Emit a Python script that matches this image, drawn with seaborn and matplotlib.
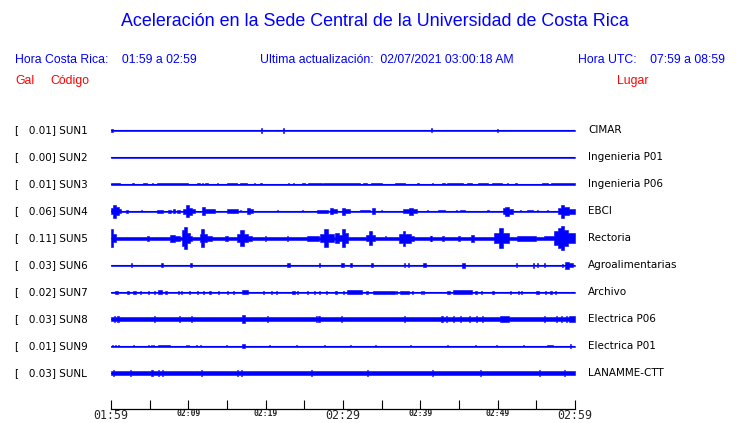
import numpy as np
import pandas as pd
import matplotlib
matplotlib.use("Agg")
import matplotlib.pyplot as plt
import seaborn as sns

codigos = ["SUN1", "SUN2", "SUN3", "SUN4", "SUN5", "SUN6", "SUN7", "SUN8", "SUN9", "SUNL"]
gal = [0.01, 0.00, 0.01, 0.06, 0.11, 0.03, 0.02, 0.03, 0.01, 0.03]
lugares = ["CIMAR", "Ingenieria P01", "Ingenieria P06", "EBCI", "Rectoria",
           "Agroalimentarias", "Archivo", "Electrica P06", "Electrica P01", "LANAMME-CTT"]
minutos_tick = [0, 10, 20, 30, 40, 50, 60]
horas = ["01:59", "02:09", "02:19", "02:29", "02:39", "02:49", "02:59"]

# amplitudes en 1/27 de la separacion entre trazas
ESCALA = 27.0
ruido = [0.5, 0.5, 0.5, 0.5, 1.5, 0.5, 0.5, 2.0, 0.5, 1.8]

# rafagas (minuto inicio, minuto fin, amplitud)
sun1 = [(0.0, 0.3, 1.5)]
sun2 = []
sun3 = [(0.0, 1.2, 1.2), (2.7, 3.0, 1.2), (4.2, 4.6, 1.2), (6.0, 7.9, 1.3), (7.9, 10.0, 1.2),
        (11.1, 11.5, 1.2), (12.2, 12.6, 1.2), (15.0, 16.3, 1.2), (16.7, 17.6, 1.2),
        (19.3, 19.5, 1.2), (23.5, 23.7, 1.2), (24.7, 25.1, 1.2), (25.5, 27.3, 1.3),
        (27.4, 30.3, 1.3), (29.6, 32.2, 1.3), (32.6, 33.1, 1.2), (33.6, 35.0, 1.2),
        (36.7, 38.0, 1.2), (42.8, 43.2, 1.2), (43.4, 45.5, 1.3), (46.0, 46.7, 1.2),
        (47.5, 48.8, 1.3), (49.3, 50.6, 1.3), (52.2, 52.5, 1.2), (55.7, 56.5, 1.2),
        (56.9, 58.0, 1.2), (58.0, 60.0, 1.3)]
sun4 = [(0.0, 0.3, 3.0), (0.3, 0.7, 6.5), (0.7, 1.0, 4.0), (1.0, 1.3, 2.0),
        (2.0, 2.2, 1.5), (6.0, 6.7, 1.5), (7.4, 7.8, 1.5), (8.0, 8.3, 2.0), (8.5, 8.9, 1.5),
        (9.3, 9.7, 2.5), (9.7, 10.1, 6.0), (10.1, 10.5, 3.5), (10.5, 10.9, 2.0),
        (11.8, 12.2, 4.0), (12.2, 13.5, 1.8), (15.0, 16.4, 1.8), (17.6, 18.0, 3.0),
        (18.0, 18.4, 1.8), (26.6, 28.0, 1.5), (28.3, 28.7, 3.0), (28.7, 29.2, 1.8),
        (29.9, 30.3, 3.5), (30.3, 30.9, 2.0), (32.2, 33.5, 1.2), (33.7, 34.1, 3.0),
        (37.8, 38.5, 2.0), (38.5, 39.1, 3.5), (39.1, 39.6, 1.8), (42.3, 43.2, 1.2),
        (45.1, 45.8, 1.2), (48.6, 48.9, 1.2), (50.7, 51.0, 3.0), (51.0, 51.5, 4.5),
        (51.5, 52.0, 2.5), (53.8, 54.6, 1.2), (57.8, 58.2, 3.0), (58.2, 58.6, 6.5),
        (58.6, 59.2, 4.0), (59.2, 60.0, 2.5)]
sun5 = [(0.0, 0.3, 9.0), (0.3, 0.6, 4.0), (4.6, 4.9, 2.5), (7.6, 8.3, 3.5), (8.3, 8.9, 2.5),
        (9.2, 9.5, 8.0), (9.5, 9.8, 11.0), (9.8, 10.2, 5.0), (10.2, 10.5, 2.5),
        (11.5, 11.7, 4.0), (11.7, 12.0, 9.0), (12.0, 12.4, 4.0), (12.4, 13.0, 2.5),
        (14.7, 15.1, 2.5), (16.3, 16.7, 4.0), (16.7, 17.2, 8.0), (17.2, 17.7, 4.0),
        (17.7, 18.2, 2.5), (25.4, 26.9, 2.5), (27.0, 27.6, 4.0), (27.6, 28.1, 9.0),
        (28.1, 28.9, 4.0), (29.0, 29.5, 5.0), (29.5, 29.9, 3.0), (29.9, 30.2, 9.0),
        (30.2, 30.6, 5.0), (33.0, 33.4, 3.0), (33.4, 33.7, 7.0), (33.7, 34.1, 3.0),
        (37.3, 37.7, 4.5), (37.7, 38.0, 7.5), (38.0, 38.8, 4.5), (38.8, 39.2, 2.5),
        (41.2, 41.4, 2.5), (42.8, 43.0, 2.5), (44.9, 45.1, 2.5), (46.6, 46.9, 3.5),
        (49.5, 50.2, 5.0), (50.2, 50.7, 10.0), (50.7, 51.5, 5.0), (52.5, 55.0, 2.5),
        (56.0, 57.3, 2.0), (57.3, 57.8, 7.0), (57.8, 58.2, 10.0), (58.2, 58.6, 12.0),
        (58.6, 59.1, 8.0), (59.1, 60.0, 5.0)]
sun6 = [(10.2, 10.5, 1.7), (22.8, 23.1, 1.7), (29.8, 30.1, 1.7), (30.9, 31.2, 1.7),
        (33.6, 33.9, 1.7), (40.4, 40.7, 1.7), (45.4, 45.8, 2.5), (58.7, 59.2, 3.5),
        (59.2, 59.7, 2.0)]
sun7 = [(0.5, 0.9, 1.5), (2.9, 3.2, 1.5), (6.1, 6.6, 1.8), (7.0, 7.3, 1.5), (17.0, 17.7, 1.6),
        (23.4, 23.8, 1.5), (30.5, 32.5, 1.6), (33.9, 36.7, 1.5), (37.4, 38.5, 1.5),
        (43.4, 43.8, 1.5), (44.2, 46.7, 1.7), (54.9, 55.4, 1.5)]
sun8 = [(17.0, 17.3, 4.0), (50.3, 51.5, 2.6), (59.2, 60.0, 2.8)]
sun9 = [(6.1, 7.6, 1.3), (17.0, 17.3, 1.8), (56.4, 57.2, 1.3)]
sunl = [(40.0, 41.0, 2.3)]

# picos aislados (minuto, amplitud)
picos1 = [(19.5, 2.5), (22.3, 2.5), (41.4, 2.0), (50.0, 1.5)]
picos2 = []
picos3 = [(5.4, 1.3), (11.8, 1.2), (13.8, 1.2), (18.6, 1.2), (22.9, 1.2), (39.7, 1.2), (41.6, 1.2), (51.3, 1.2)]
picos4 = [(4.0, 1.0), (16.7, 1.0), (21.5, 1.0), (24.8, 1.0), (35.0, 1.0), (40.9, 1.0),
          (44.7, 1.2), (52.9, 1.0), (55.2, 1.2), (56.4, 1.0)]
picos5 = [(20.0, 2.5), (22.8, 2.5), (35.5, 2.2), (41.5, 2.5)]
picos6 = [(2.7, 2.0), (6.6, 2.0), (27.0, 2.0), (38.0, 1.7), (38.5, 1.7), (52.4, 1.7),
          (54.6, 2.5), (55.2, 1.7), (56.1, 1.7), (58.4, 1.5)]
picos7 = [(2.2, 1.5), (3.8, 1.5), (4.9, 1.5), (5.6, 1.5), (8.7, 1.5), (9.1, 1.5), (10.2, 1.5),
          (11.2, 1.5), (12.0, 1.5), (12.8, 1.5), (13.9, 1.5), (15.1, 1.5), (15.8, 1.5),
          (19.7, 1.5), (20.8, 1.5), (21.4, 1.5), (24.1, 1.5), (25.4, 1.5), (26.3, 1.5),
          (27.0, 1.5), (27.9, 1.5), (29.1, 1.5), (30.1, 1.5), (33.1, 1.5), (36.9, 1.5),
          (39.0, 1.5), (40.1, 1.5), (40.4, 1.5), (47.2, 1.5), (47.9, 1.5), (49.4, 1.5),
          (51.7, 1.5), (52.7, 1.5), (53.1, 1.5), (56.2, 1.5), (56.9, 1.5), (57.5, 1.5)]
picos8 = [(0.5, 3.0), (0.9, 3.0), (5.6, 2.8), (8.8, 3.0), (10.4, 3.0), (20.2, 2.8),
          (26.6, 3.0), (26.9, 3.0), (29.8, 3.0), (37.9, 2.8), (42.8, 2.8), (43.4, 2.8),
          (44.3, 2.8), (45.2, 2.8), (46.4, 3.0), (47.3, 3.0), (48.0, 2.8), (56.1, 2.8),
          (57.6, 2.8), (58.2, 3.0), (58.9, 2.8)]
picos9 = [(0.2, 1.4), (0.6, 1.4), (1.0, 1.4), (2.9, 1.4), (4.9, 1.4), (5.2, 1.4), (5.5, 1.4),
          (9.8, 1.4), (10.0, 1.4), (11.0, 1.4), (11.6, 1.4), (14.9, 1.4), (20.5, 1.4),
          (24.0, 1.4), (27.6, 1.4), (31.0, 1.4), (34.2, 1.4), (38.7, 1.4), (43.5, 1.4),
          (47.1, 1.4), (49.8, 1.4), (53.3, 1.4), (59.4, 2.0)]
picosl = [(0.3, 2.8), (2.5, 2.8), (5.3, 2.8), (6.2, 2.8), (6.7, 2.8), (11.7, 2.8), (16.3, 2.8),
          (16.9, 2.8), (25.9, 2.6), (33.2, 2.6), (41.6, 2.6), (47.8, 2.6), (55.4, 2.6), (58.7, 2.8)]

rafagas = [sun1, sun2, sun3, sun4, sun5, sun6, sun7, sun8, sun9, sunl]
picos = [picos1, picos2, picos3, picos4, picos5, picos6, picos7, picos8, picos9, picosl]

AZUL = "#0000ff"
ROJO = "#ff0000"


def envolvente(base, eventos, aislados):
    eventos = list(eventos) + [(t - 0.07, t + 0.07, v) for t, v in aislados]
    bordes = sorted(set([0.0, 60.0] + [max(0.0, e[0]) for e in eventos] + [min(60.0, e[1]) for e in eventos]))
    amps = []
    for a, b in zip(bordes[:-1], bordes[1:]):
        m = (a + b) / 2
        amp = base
        for t0, t1, v in eventos:
            if t0 <= m < t1:
                amp = max(amp, v)
        amps.append(amp)
    amps.append(amps[-1])
    return np.array(bordes), np.array(amps) / ESCALA


sns.set_style("white")
plt.rcParams["font.family"] = ["Liberation Sans", "DejaVu Sans"]

fig = plt.figure(figsize=(7.4, 4.23), dpi=100)
ax = fig.add_axes([111 / 740, 14 / 423, 464 / 740, 292.5 / 423])

# linea central de cada estacion
df = pd.DataFrame({
    "minuto": [0, 60] * len(codigos),
    "pos": [i for i in range(len(codigos)) for _ in range(2)],
    "codigo": [c for c in codigos for _ in range(2)],
})
sns.lineplot(data=df, x="minuto", y="pos", units="codigo", estimator=None,
             color=AZUL, lw=0.8, ax=ax)

for i in range(len(codigos)):
    t, a = envolvente(ruido[i], rafagas[i], picos[i])
    ax.fill_between(t, i - a, i + a, step="post", color=AZUL, lw=0.4, edgecolor=AZUL)
    ax.text(-0.207, i, f"[   {gal[i]:.2f}] {codigos[i]}", transform=ax.get_yaxis_transform(),
            ha="left", va="center", fontsize=7.5, family="DejaVu Sans", color="black")
    ax.text(1.028, i, lugares[i], transform=ax.get_yaxis_transform(),
            ha="left", va="center", fontsize=7.5, family="DejaVu Sans", color="black")

ax.set_xlim(0, 60)
ax.set_ylim(10.33, -0.5)
ax.set_ylabel("")
ax.set_xlabel("")
ax.set_yticks([])
for lado in ["top", "left", "right"]:
    ax.spines[lado].set_visible(False)
ax.spines["bottom"].set_color("black")
ax.spines["bottom"].set_linewidth(0.9)

ax.set_xticks(minutos_tick)
ax.set_xticks([5, 15, 25, 35, 45, 55], minor=True)
ax.set_xticklabels(horas)
ax.tick_params(axis="x", which="both", direction="in", length=6.5, width=0.8,
               color="black", bottom=True, pad=0.2)
for j, lab in enumerate(ax.get_xticklabels()):
    lab.set_family("DejaVu Sans Mono")
    if j in (0, 3, 6):
        lab.set_fontsize(8.4)
    else:
        lab.set_fontsize(5.8)
        lab.set_fontweight("bold")

fig.text(375 / 740, 1 - 22 / 423, "Aceleración en la Sede Central de la Universidad de Costa Rica",
         ha="center", va="center", fontsize=12.85, color=AZUL)
fig.text(15 / 740, 1 - 60 / 423, "Hora Costa Rica:    01:59 a 02:59",
         ha="left", va="center", fontsize=8.8, color=AZUL)
fig.text(260 / 740, 1 - 60 / 423, "Ultima actualización:  02/07/2021 03:00:18 AM",
         ha="left", va="center", fontsize=8.8, color=AZUL)
fig.text(725 / 740, 1 - 60 / 423, "Hora UTC:    07:59 a 08:59",
         ha="right", va="center", fontsize=8.8, color=AZUL)
fig.text(15 / 740, 1 - 81 / 423, "Gal", ha="left", va="center", fontsize=8.8, color=ROJO)
fig.text(50 / 740, 1 - 81 / 423, "Código", ha="left", va="center", fontsize=8.8, color=ROJO)
fig.text(649 / 740, 1 - 81 / 423, "Lugar", ha="right", va="center", fontsize=8.8, color=ROJO)

fig.savefig("out.png", dpi=100)
